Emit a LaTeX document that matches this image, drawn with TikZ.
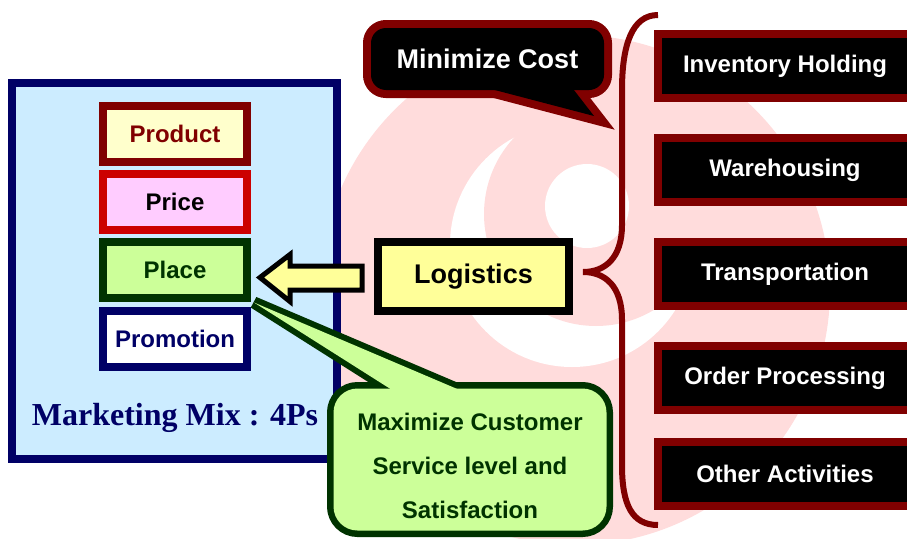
\documentclass[tikz,border=0pt]{standalone}
\usepackage{fontspec}
\setmainfont{Liberation Sans}
\newfontfamily\mixfont{Liberation Serif}
\usetikzlibrary{calc}

\definecolor{navy}{RGB}{0,0,102}
\definecolor{skyfill}{RGB}{204,236,255}
\definecolor{maroon}{RGB}{128,0,0}
\definecolor{cream}{RGB}{255,255,204}
\definecolor{pricered}{RGB}{204,0,0}
\definecolor{pricepink}{RGB}{255,204,255}
\definecolor{leafdark}{RGB}{0,51,0}
\definecolor{leaf}{RGB}{204,255,153}
\definecolor{lemon}{RGB}{255,255,153}
\definecolor{wmpink}{RGB}{255,220,220}

\tikzset{
	pbox/.style={draw=#1, line width=8pt, minimum width=144pt, minimum height=56pt,
			inner sep=0pt, font=\fontsize{24}{28}\selectfont\bfseries},
	actbox/.style={draw=maroon, fill=black, text=white, line width=8pt,
			minimum width=254pt, minimum height=64pt, inner sep=0pt,
			font=\fontsize{24}{28}\selectfont\bfseries},
	bigtext/.style={font=\fontsize{27}{30}\selectfont\bfseries},
	frame/.style={inner sep=0pt, outer sep=0pt}
}

\begin{document}
\begin{tikzpicture}[x=1pt, y=-1pt]
		\useasboundingbox (0, 0) rectangle (907, 538);
		\clip (0, 0) rectangle (907, 538);

		% watermark
		\fill[wmpink] (575, 290) circle (255);
		\fill[white] (572, 245) circle (122);
		\fill[wmpink] (596, 214) circle (112);
		\fill[white] (587, 206) circle (42);

		% marketing mix
		\node[draw=navy, fill=skyfill, line width=8pt, minimum width=325pt,
			minimum height=376pt, inner sep=0pt] (mix) at (174.5, 271) {};
		\node[pbox=maroon, fill=cream, text=maroon] (product) at (175, 134) {Product};
		\node[pbox=pricered, fill=pricepink] (price) at (175, 202) {Price};
		\node[pbox=leafdark, fill=leaf, text=leafdark] (place) at (175, 270) {Place};
		\node[pbox=navy, fill=white, text=navy] (promo) at (175, 338.5) {Promotion};
		\node[text=navy, font=\mixfont\fontsize{32}{36}\selectfont\bfseries] (mixlbl)
			at (175, 418) {Marketing Mix : 4Ps};

		% logistics and its arrow
		\node[draw=black, fill=lemon, line width=8pt, minimum width=191pt,
			minimum height=69pt, inner sep=0pt, bigtext] (logis) at (473.5, 276.5) {Logistics};
		\coordinate (tip) at ($(place.east)+(9, 7.5)$);
		\draw[fill=lemon, line width=5pt] (tip) -- ++(30, -23) -- ++(0, 11.5) -- ++(72, 0)
			-- ++(0, 24) -- ++(-72, 0) -- ++(0, 11.5) -- cycle;

		% minimize cost
		\node[frame, minimum width=233pt, minimum height=62pt] (costbox) at (487.5, 59) {};
		\coordinate (ctip) at (594, 116);
		\coordinate (cl) at ($(ctip)!1.3!(510, 94)$);
		\coordinate (cr) at ($(ctip)!1.3!(577, 94)$);
		\draw[maroon, line width=16pt, rounded corners=15pt] (costbox.south west) rectangle (costbox.north east);
		\draw[maroon, line width=16pt] (cl) -- (ctip) -- (cr) -- cycle;
		\fill[black, rounded corners=15pt] (costbox.south west) rectangle (costbox.north east);
		\fill[black] (cl) -- (ctip) -- (cr) -- cycle;
		\node[text=white, bigtext] (cost) at (costbox) {Minimize Cost};

		% customer service
		\node[frame, minimum width=273pt, minimum height=142pt] (servebox) at (470, 459.5) {};
		\coordinate (gtip) at (254, 302.5);
		\coordinate (gl) at ($(gtip)!1.14!(385, 385.5)$);
		\coordinate (gr) at ($(gtip)!1.14!(449, 385.5)$);
		\draw[leafdark, line width=13pt, rounded corners=24pt] (servebox.south west) rectangle (servebox.north east);
		\draw[leafdark, line width=12pt] (gl) -- (gtip) -- (gr) -- cycle;
		\fill[leaf, rounded corners=24pt] (servebox.south west) rectangle (servebox.north east);
		\fill[leaf] (gl) -- (gtip) -- (gr) -- cycle;
		\node[text=leafdark, align=center, font=\fontsize{24}{44}\selectfont\bfseries]
			(serve) at (470, 466) {Maximize Customer\\Service level and\\Satisfaction};

		% brace
		\draw[maroon, line width=6pt] (658, 15) .. controls (632, 15) and (622, 45) .. (622, 90)
			-- (622, 225) .. controls (622, 258) and (605, 272) .. (583, 272)
			.. controls (605, 272) and (622, 286) .. (622, 320)
			-- (622, 465) .. controls (622, 505) and (632, 525) .. (658, 525);

		% activities
		\foreach \y/\lbl [count=\i] in {66/Inventory Holding, 170/Warehousing,
				274/Transportation, 378/Order Processing, 474/Other Activities}{
				\node[actbox] (act\i) at (785, \y) {\lbl};
			}
	\end{tikzpicture}
\end{document}
